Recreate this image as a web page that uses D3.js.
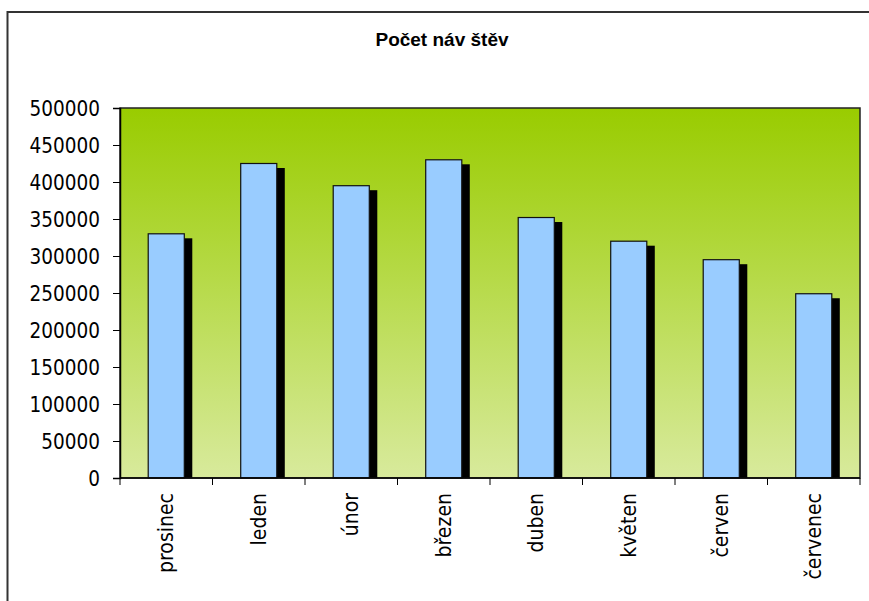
<!DOCTYPE html>
<html>
<head>
<meta charset="utf-8">
<script src="https://cdn.jsdelivr.net/npm/d3@7"></script>
<style>
  html, body { margin: 0; background: #fff; overflow: hidden; }
  svg { display: block; }
  svg text { font-family: "DejaVu Sans Condensed", "DejaVu Sans", sans-serif; }
</style>
</head>
<body>
<div id="chart"></div>
<script>
// data
var months = ["prosinec", "leden", "únor", "březen", "duben", "květen", "červen", "červenec"];
var visits = [330000, 425000, 395000, 430000, 352000, 320000, 295000, 249000];
var yTicks = [0, 50000, 100000, 150000, 200000, 250000, 300000, 350000, 400000, 450000, 500000];
var title = "Počet náv štěv";

var W = 869, H = 601;
var margin = {top: 108, right: 9, bottom: 123, left: 120},
  width = W - margin.left - margin.right,
  height = H - margin.top - margin.bottom;

var svg = d3.select("#chart")
  .append("svg")
    .attr("width", W)
    .attr("height", H);

// outer chart border (runs off the bottom/right of the picture)
svg.append("rect")
  .attr("x", 7.5)
  .attr("y", 12)
  .attr("width", W + 100)
  .attr("height", H + 100)
  .attr("fill", "none")
  .attr("stroke", "#333")
  .attr("stroke-width", 2);

// title
svg.append("text")
  .attr("x", 442)
  .attr("y", 46)
  .attr("text-anchor", "middle")
  .style("font-family", "'Liberation Sans', Arial, sans-serif")
  .style("font-weight", "bold")
  .style("font-size", "19px")
  .text(title);

// gradient for plot area
var defs = svg.append("defs");
var grad = defs.append("linearGradient")
  .attr("id", "bg")
  .attr("x1", 0).attr("y1", 0).attr("x2", 0).attr("y2", 1);
grad.append("stop").attr("offset", "0%").attr("stop-color", "#99cc00");
grad.append("stop").attr("offset", "100%").attr("stop-color", "#d8ea9c");

defs.append("clipPath").attr("id", "clip")
  .append("rect").attr("width", width).attr("height", height);

var g = svg.append("g")
  .attr("transform", "translate(" + margin.left + "," + margin.top + ")");

g.append("rect")
  .attr("width", width)
  .attr("height", height)
  .attr("fill", "url(#bg)");

var x = d3.scaleBand()
  .domain(months)
  .range([0, width])
  .padding(0);

var y = d3.scaleLinear()
  .domain([0, 500000])
  .range([height, 0]);

var bw = x.bandwidth() * 0.39;

// shadows
g.append("g")
  .attr("clip-path", "url(#clip)")
  .selectAll("rect")
  .data(visits)
  .join("rect")
    .attr("x", function(d, i) { return x(months[i]) + (x.bandwidth() - bw) / 2 + 8; })
    .attr("y", function(d) { return y(d) + 4.5; })
    .attr("width", bw)
    .attr("height", function(d) { return height - y(d); })
    .attr("fill", "#000");

// bars
g.append("g")
  .selectAll("rect")
  .data(visits)
  .join("rect")
    .attr("x", function(d, i) { return x(months[i]) + (x.bandwidth() - bw) / 2; })
    .attr("y", function(d) { return y(d); })
    .attr("width", bw)
    .attr("height", function(d) { return height - y(d); })
    .attr("fill", "#99ccff")
    .attr("stroke", "#111")
    .attr("stroke-width", 1.2);

// plot border
g.append("rect")
  .attr("width", width)
  .attr("height", height)
  .attr("fill", "none")
  .attr("stroke", "#222")
  .attr("stroke-width", 1.5);

// Y axis
var yAxis = g.append("g")
  .call(d3.axisLeft(y).tickValues(yTicks).tickFormat(d3.format("d")).tickSize(7).tickPadding(13));
yAxis.select(".domain").attr("stroke", "#000").attr("stroke-width", 1.5);
yAxis.selectAll(".tick line").attr("stroke", "#000");
yAxis.selectAll("text")
  .attr("fill", "#000")
  .style("font-size", "20.5px")
  .attr("dy", "0.36em");

// X axis: ticks at category boundaries
var xAxis = g.append("g")
  .attr("transform", "translate(0," + height + ")");
xAxis.append("line")
  .attr("x1", 0).attr("x2", width)
  .attr("stroke", "#000").attr("stroke-width", 1.5);
xAxis.selectAll(".bt")
  .data(months.concat(["end"]))
  .join("line")
    .attr("class", "bt")
    .attr("x1", function(d, i) { return i < months.length ? x(d) : width; })
    .attr("x2", function(d, i) { return i < months.length ? x(d) : width; })
    .attr("y1", 0).attr("y2", 7)
    .attr("stroke", "#000");
xAxis.selectAll(".lab")
  .data(months)
  .join("text")
    .attr("class", "lab")
    .attr("transform", function(d) {
      return "translate(" + (x(d) + x.bandwidth() / 2 + 7) + ",15) rotate(-90)";
    })
    .attr("text-anchor", "end")
    .style("font-size", "21px")
    .attr("fill", "#000")
    .text(function(d) { return d; });
</script>
</body>
</html>
